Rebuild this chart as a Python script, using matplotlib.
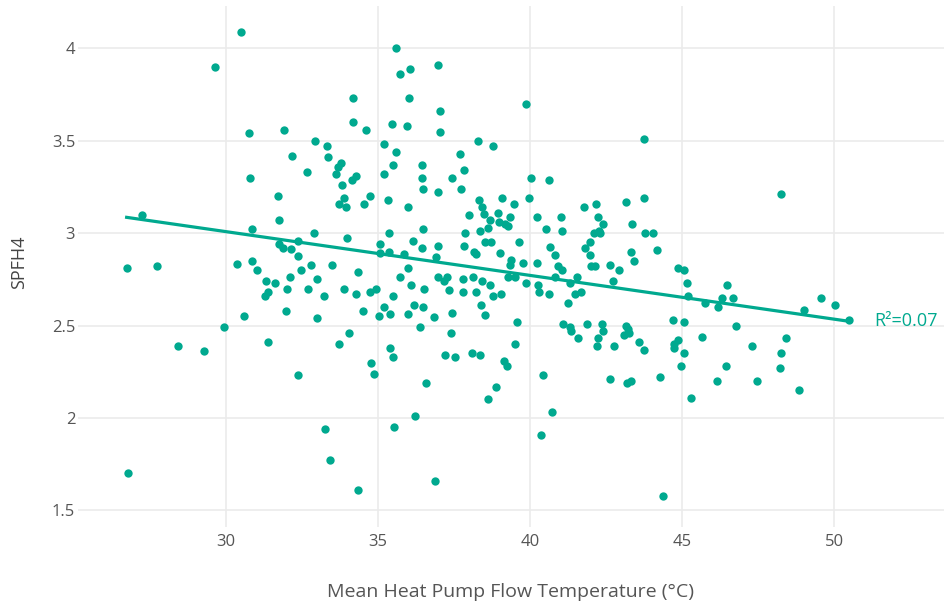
import numpy as np
import matplotlib
matplotlib.use("Agg")
import matplotlib.pyplot as plt

# mean heat pump flow temperature (°C)
flow_temp = [
    26.73, 26.77, 27.22, 27.72, 28.43, 29.29, 29.64, 29.94, 30.50, 30.36,
    30.60, 30.77, 30.79, 30.87, 30.87, 31.03, 31.31, 31.29, 31.39, 31.37,
    31.61, 31.71, 31.73, 31.75, 31.88, 31.90, 31.96, 32.00, 32.10, 32.14,
    32.18, 32.36, 32.38, 32.36, 32.48, 32.66, 32.68, 32.80, 32.90, 32.94,
    32.98, 32.98, 33.23, 33.25, 33.31, 33.37, 33.41, 33.49, 33.63, 33.69,
    33.71, 33.73, 33.79, 33.83, 33.87, 33.89, 33.95, 33.97, 34.05, 34.15,
    34.19, 34.19, 34.29, 34.29, 34.33, 34.35, 34.52, 34.54, 34.60, 34.72,
    34.72, 34.78, 34.86, 34.92, 35.04, 35.06, 35.06, 35.18, 35.20, 35.20,
    35.34, 35.36, 35.36, 35.38, 35.40, 35.46, 35.48, 35.48, 35.50, 35.52,
    35.58, 35.60, 35.71, 35.73, 35.87, 35.95, 35.97, 35.97, 35.97, 36.01,
    36.05, 36.07, 36.15, 36.19, 36.23, 36.39, 36.43, 36.45, 36.45, 36.47,
    36.49, 36.49, 36.51, 36.59, 36.85, 36.88, 36.92, 36.96, 36.98, 36.98,
    36.98, 37.04, 37.04, 37.18, 37.20, 37.26, 37.32, 37.40, 37.42, 37.42,
    37.54, 37.70, 37.74, 37.78, 37.80, 37.82, 37.84, 37.86, 38.00, 38.08,
    38.12, 38.17, 38.21, 38.21, 38.29, 38.33, 38.37, 38.37, 38.39, 38.43,
    38.43, 38.49, 38.51, 38.53, 38.61, 38.63, 38.67, 38.67, 38.73, 38.77,
    38.79, 38.89, 38.93, 38.99, 39.01, 39.05, 39.07, 39.15, 39.19, 39.23,
    39.29, 39.29, 39.33, 39.33, 39.37, 39.47, 39.52, 39.52, 39.58, 39.64,
    39.76, 39.86, 39.86, 39.96, 40.04, 40.22, 40.22, 40.26, 40.28, 40.36,
    40.44, 40.52, 40.62, 40.62, 40.66, 40.73, 40.81, 40.81, 40.93, 41.03,
    41.05, 41.05, 41.09, 41.25, 41.33, 41.33, 41.35, 41.49, 41.55, 41.57,
    41.67, 41.79, 41.81, 41.87, 41.98, 41.98, 42.00, 42.10, 42.14, 42.16,
    42.20, 42.24, 42.24, 42.26, 42.30, 42.38, 42.40, 42.40, 42.64, 42.64,
    42.74, 42.76, 42.92, 43.10, 43.15, 43.15, 43.19, 43.23, 43.27, 43.31,
    43.33, 43.35, 43.43, 43.57, 43.75, 43.75, 43.75, 43.79, 44.03, 44.17,
    44.27, 44.37, 44.70, 44.74, 44.74, 44.86, 44.88, 44.98, 45.06, 45.06,
    45.08, 45.16, 45.18, 45.28, 45.65, 45.75, 46.15, 46.19, 46.33, 46.43,
    46.47, 46.69, 46.77, 47.30, 47.46, 48.27, 48.23, 48.27, 48.43, 48.85,
    49.01, 49.58, 50.04, 50.50,
]

# seasonal performance factor (H4 boundary)
spf_h4 = [
    2.81, 1.70, 3.10, 2.82, 2.39, 2.36, 3.90, 2.49, 4.09, 2.835,
    2.55, 3.54, 3.30, 3.02, 2.85, 2.80, 2.74, 2.66, 2.68, 2.41,
    2.73, 3.20, 3.07, 2.94, 2.92, 3.56, 2.58, 2.70, 2.76, 2.915,
    3.42, 2.96, 2.875, 2.23, 2.80, 3.33, 2.70, 2.83, 3.00, 3.50,
    2.75, 2.54, 2.66, 1.94, 3.47, 3.41, 1.77, 2.83, 3.32, 3.36,
    2.40, 3.16, 3.38, 3.26, 3.19, 2.70, 3.14, 2.975, 2.46, 3.29,
    3.73, 3.60, 3.31, 2.67, 2.79, 1.61, 2.58, 3.16, 3.56, 3.20,
    2.68, 2.30, 2.24, 2.70, 2.55, 2.94, 2.89, 3.48, 2.60, 3.32,
    3.18, 3.00, 2.90, 2.56, 2.38, 3.59, 3.37, 2.66, 2.33, 1.95,
    3.44, 4.00, 3.86, 2.76, 2.885, 3.58, 3.14, 2.81, 2.56, 3.73,
    3.89, 2.72, 2.96, 2.61, 2.01, 2.49, 3.30, 3.37, 2.92, 3.025,
    3.24, 2.60, 2.70, 2.19, 2.545, 1.66, 2.87, 2.93, 2.76, 3.91,
    3.22, 3.66, 3.545, 2.74, 2.34, 2.76, 2.69, 2.46, 3.30, 2.57,
    2.33, 3.43, 3.24, 2.75, 2.68, 2.93, 3.34, 3.00, 3.10, 2.35,
    2.76, 2.90, 2.885, 2.68, 3.50, 3.18, 3.01, 2.34, 2.61, 3.14,
    2.74, 3.105, 2.555, 2.95, 2.10, 3.03, 3.07, 2.72, 2.95, 3.47,
    2.66, 2.17, 3.11, 3.06, 2.895, 2.67, 3.19, 2.31, 3.05, 2.28,
    2.76, 3.04, 3.09, 2.83, 2.855, 3.16, 2.40, 2.76, 2.52, 2.95,
    2.84, 2.73, 3.70, 3.19, 3.30, 2.84, 3.09, 2.72, 2.68, 1.91,
    2.23, 3.02, 3.29, 2.67, 2.925, 2.03, 2.88, 2.76, 2.82, 3.09,
    3.01, 2.80, 2.51, 2.62, 2.73, 2.49, 2.47, 2.67, 2.76, 2.43,
    2.68, 3.14, 2.92, 2.51, 2.95, 2.88, 2.82, 3.00, 2.82, 3.16,
    2.39, 3.09, 2.43, 3.01, 3.00, 2.51, 3.05, 2.47, 2.83, 2.21,
    2.74, 2.39, 2.80, 2.45, 3.17, 2.50, 2.19, 2.48, 2.46, 2.20,
    2.90, 3.05, 2.85, 2.41, 3.51, 2.37, 3.19, 3.00, 3.00, 2.91,
    2.22, 1.58, 2.53, 2.40, 2.38, 2.42, 2.81, 2.28, 2.80, 2.35,
    2.52, 2.73, 2.66, 2.11, 2.44, 2.62, 2.20, 2.60, 2.65, 2.28,
    2.72, 2.65, 2.50, 2.39, 2.20, 3.21, 2.27, 2.35, 2.43, 2.15,
    2.585, 2.65, 2.61, 2.53,
]

x_ticks = [30, 35, 40, 45, 50]
y_ticks = [1.5, 2, 2.5, 3, 3.5, 4]
y_tick_labels = ["1.5", "2", "2.5", "3", "3.5", "4"]

teal = "#00a98f"
grey = "#555555"

plt.rcParams['font.family'] = ['Open Sans', 'DejaVu Sans']

x = np.array(flow_temp)
y = np.array(spf_h4)

# linear trend + R²
slope, intercept = np.polyfit(x, y, 1)
fit = slope * x + intercept
r2 = 1 - np.sum((y - fit) ** 2) / np.sum((y - y.mean()) ** 2)

W, H = 945, 605
fig = plt.figure(figsize=(W / 100, H / 100), dpi=100)
ax = fig.add_axes([78 / W, 1 - 527 / H, (W - 78) / W, (527 - 6) / H])

ax.scatter(x, y, s=36, color=teal, linewidths=0, zorder=3)

xs = np.array([x.min(), x.max()])
ax.plot(xs, slope * xs + intercept, color=teal, linewidth=2.3, zorder=2)
ax.annotate("R²=%.2f" % r2, xy=(xs[1], slope * xs[1] + intercept),
            xytext=(18, 0), textcoords="offset points",
            ha="left", va="center", color=teal, fontsize=13,
            annotation_clip=False)

ax.set_xlim(25.13, 53.65)
ax.set_ylim(1.41, 4.229)
ax.set_xticks(x_ticks)
ax.set_yticks(y_ticks)
ax.set_yticklabels(y_tick_labels)
ax.tick_params(length=0, labelsize=12, colors=grey)
ax.tick_params(axis='x', pad=5)
ax.tick_params(axis='y', pad=2)
ax.grid(True, color="#ebebeb", linewidth=1.2)
ax.set_axisbelow(True)
for s in ax.spines.values():
    s.set_visible(False)

fig.text(511 / W, 1 - 592 / H, "Mean Heat Pump Flow Temperature (°C)",
         ha="center", va="center", fontsize=14, color=grey)
fig.text(19 / W, 1 - 262 / H, "SPFH4", rotation=90,
         ha="center", va="center", fontsize=13, color="#444444")

fig.savefig("out.png", dpi=100)
